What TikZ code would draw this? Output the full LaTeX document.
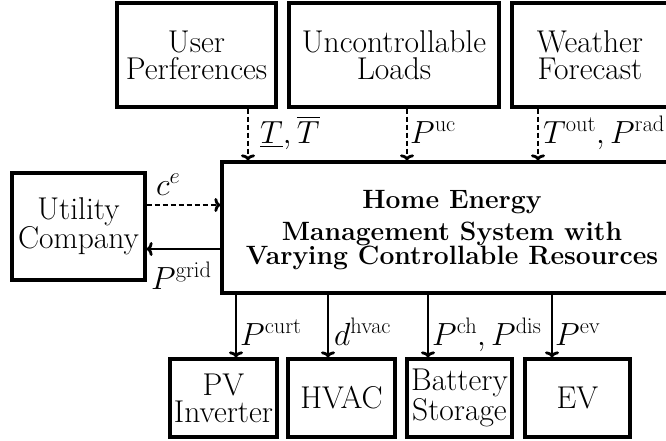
\documentclass[tikz,border=0pt]{standalone}
\usepackage{fix-cm}
\usepackage{exscale}
\usetikzlibrary{arrows.meta}
\begin{document}
\begin{tikzpicture}[x=1pt,y=-1pt,
  box/.style={draw, line width=3.2pt, inner sep=0pt, align=center,
    font=\fontsize{31.5}{27}\selectfont},
  conn/.style={line width=2.8pt, -{To[length=6pt,width=14pt]}},
  dconn/.style={conn, dash pattern=on 5pt off 3pt},
  lab/.style={anchor=base west, inner sep=0pt, font=\fontsize{32}{32}\selectfont}]
\useasboundingbox (0,0) rectangle (666,440);
% top boxes
\node[box, minimum width=159pt, minimum height=104pt] (user) at (196.5,55) {User\\Perferences};
\node[box, minimum width=210pt, minimum height=104pt] (unc) at (394,55) {Uncontrollable\\Loads};
\node[box, minimum width=156pt, minimum height=104pt] (wea) at (590,55) {Weather\\Forecast};
% main box
\node[draw, line width=3.2pt, inner sep=0pt, minimum width=460pt, minimum height=131pt,
  align=center, font=\fontsize{26.5}{24}\selectfont\bfseries] (main) at (452,227.5)
  {\rule{0pt}{24pt}Home Energy\\[8pt]Management System with\\Varying Controllable Resources};
% utility
\node[box, minimum width=133pt, minimum height=107pt] (util) at (78.5,226.5) {Utility\\Company};
% bottom boxes
\node[box, minimum width=107pt, minimum height=78pt] (pv) at (223.5,398) {PV\\Inverter};
\node[box, minimum width=107pt, minimum height=78pt] (hvac) at (341.5,398) {HVAC};
\node[box, minimum width=105pt, minimum height=78pt] (bat) at (459.5,398) {Battery\\Storage};
\node[box, minimum width=105pt, minimum height=78pt] (ev) at (577.5,398) {EV};
% connector columns
\coordinate (a1) at (248,0);
\coordinate (a2) at (407,0);
\coordinate (a3) at (538,0);
\coordinate (b1) at (236,0);
\coordinate (b2) at (328,0);
\coordinate (b3) at (428,0);
\coordinate (b4) at (552,0);
\coordinate (r1) at (0,205);
\coordinate (r2) at (0,249);
% top dashed arrows
\draw[dconn] (user.south -| a1) -- (main.north -| a1);
\draw[dconn] (unc.south -| a2) -- (main.north -| a2);
\draw[dconn] (wea.south -| a3) -- (main.north -| a3);
% utility arrows
\draw[dconn] (util.east |- r1) -- (main.west |- r1);
\draw[conn] (main.west |- r2) -- (util.east |- r2);
% bottom arrows
\draw[conn] (main.south -| b1) -- (pv.north -| b1);
\draw[conn] (main.south -| b2) -- (hvac.north -| b2);
\draw[conn] (main.south -| b3) -- (bat.north -| b3);
\draw[conn] (main.south -| b4) -- (ev.north -| b4);
% labels
\node[lab] (lT) at (260,143) {$\underline{T},\overline{T}$};
\node[lab] (luc) at (410,143) {$P^{\mathrm{uc}}$};
\node[lab] (lw) at (543,143) {$T^{\mathrm{out}},P^{\mathrm{rad}}$};
\node[lab] (lce) at (156,195) {$c^{e}$};
\node[lab] (lgrid) at (151,289) {$P^{\mathrm{grid}}$};
\node[lab] (lcurt) at (240,345) {$P^{\mathrm{curt}}$};
\node[lab] (lhvac) at (334,345) {$d^{\mathrm{hvac}}$};
\node[lab] (lbat) at (432,345) {$P^{\mathrm{ch}},P^{\mathrm{dis}}$};
\node[lab] (lev) at (555,345) {$P^{\mathrm{ev}}$};
\end{tikzpicture}
\end{document}
